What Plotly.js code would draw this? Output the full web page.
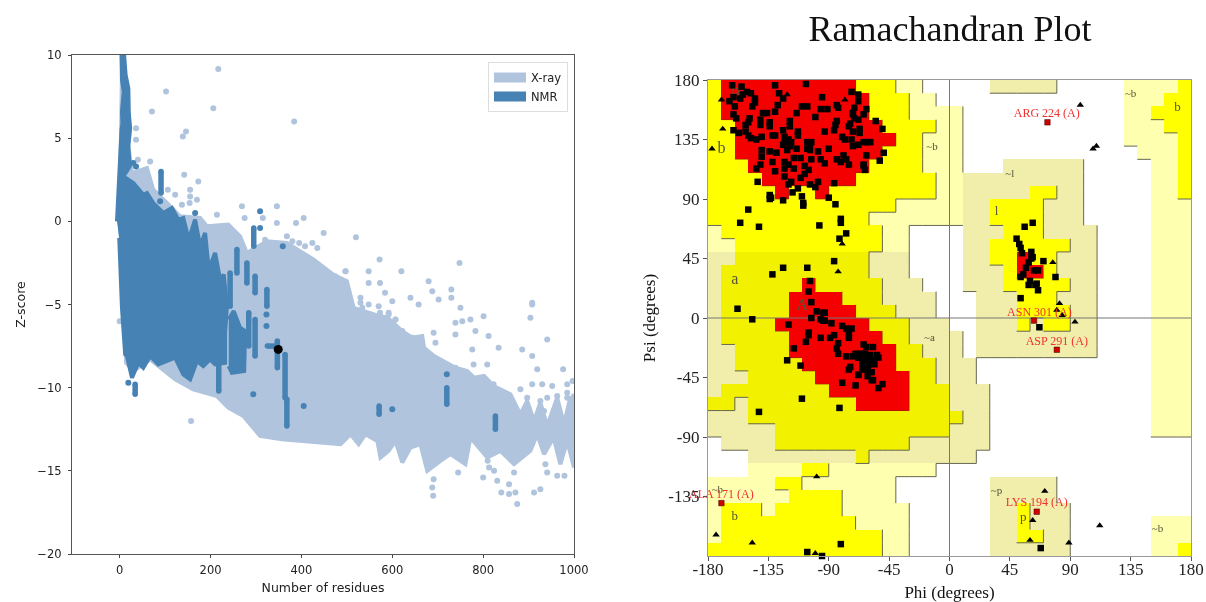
<!DOCTYPE html>
<html><head><meta charset="utf-8">
<script src="https://cdn.plot.ly/plotly-3.0.1.min.js"></script>
<style>html,body{margin:0;padding:0;background:#fff}#c{width:1206px;height:602px;filter:blur(0.55px)}</style>
</head><body><div id="c"></div>
<script>
// ---------- Left panel: Z-score vs residues ----------
const xrayUpperX=[0,5,12,27,60,74,104,133,177,192,239,265,280,324,368,427,470,500,515,560,590,622,644,666,670,692,739,765,780,802,823,860,882,897,912,926,941,956,963,978,990,1000];
const xrayUpperZ=[0,9,6,2.9,3.2,1.9,1.1,0.3,0.2,-0.3,-0.2,-0.9,-1.9,-1.2,-1.3,-2.3,-3.2,-3.6,-5.2,-5.6,-5.8,-6.6,-7,-6.9,-7.6,-8.1,-8.8,-9,-9.4,-9.3,-9.9,-10.4,-11.6,-10.8,-12,-10.9,-12.3,-11.2,-10.6,-12.2,-10.8,-10.4];
const xrayLowerX=[1000,985,970,955,934,919,904,868,838,809,772,761,728,706,677,662,640,622,607,592,574,567,541,526,508,486,397,357,309,272,239,214,162,122,67,30,14,12,0];
const xrayLowerZ=[-14.8,-13.2,-14.6,-13,-14,-12.8,-13.8,-14.6,-13.8,-14.2,-13,-14.6,-14,-14.4,-15,-13.4,-13.6,-14.5,-13.2,-13.8,-14.2,-13.2,-12.8,-13.4,-12.8,-13.4,-13.2,-13.1,-12.9,-11.7,-11.2,-10.5,-10.1,-9.5,-8.3,-9,-8.5,-5,0];
const xraySparseX=[217,102,71,206,384,36,146,139,36,67,40,142,173,155,155,122,106,137,154,170,214,269,346,275,315,346,388,405,449,320,368,380,395,408,424,435,497,464,474,478,450,497,520,572,497,548,620,748,680,548,573,584,688,730,730,702,600,640,658,908,750,530,501,548,908,904,941,886,908,919,976,801,772,754,739,739,783,812,834,776,691,695,662,644,618,607,592,809,779,739,761,790,823,882,908,930,952,985,997,985,926,941,963,985,996,897,934,956,970,992,996,937,941,963,979,912,926,875,857,871,857,840,831,824,813,800,868,745,691,688,690,810,157,0,493,515,534,530,570,573,592,607,508,537,567,589,622,644];
const xraySparseZ=[9.16,7.8,6.6,6.8,6,5.6,5.4,5.1,4.9,3.6,3.7,2.8,2.4,1.9,1.5,1.6,1.9,1,1.1,1.3,0.4,0.9,0.9,0.2,0.2,-0.1,-0.1,0.2,-0.7,-1.1,-0.9,-1.2,-1.3,-1.5,-1.3,-1.6,-3,-3.4,-3.3,-3.9,-3.9,-4,-0.95,-2.3,-3,-3,-3,-2.5,-3.6,-3.7,-3.7,-4.3,-4.2,-4.1,-4.6,-4.7,-4.8,-4.6,-5,-4.9,-5.2,-4.6,-4.6,-5,-5,-5.8,-7.1,-7.7,-8.1,-8.9,-8.9,-5.7,-5.9,-6,-6.1,-6.8,-6.6,-6.9,-7.6,-7.7,-6.7,-7.3,-7,-7,-6.6,-5.9,-5.5,-8.6,-8.6,-8.8,-9.1,-9.6,-9.8,-10.1,-9.8,-9.8,-9.9,-9.8,-9.6,-10.3,-10.8,-10.6,-10.5,-10.6,-10.8,-10.6,-11.4,-11.4,-11.8,-11.6,-11.2,-14.6,-15.1,-15.3,-15.3,-16.3,-16.1,-17,-15.8,-16.3,-16.4,-16.3,-15.6,-15,-14.8,-15.4,-15.1,-15.1,-15.5,-16,-16.5,-14.4,-12,-6,-5.5,-5.4,-5.2,-4.9,-5.1,-5.5,-5.6,-5.9,-6,-6,-6.2,-6.3,-6.6,-7];
const nmrBodyX=[-6,-3,1,3,4,6,5,9,5,4,10,13,19,20,23,19,22,8,30,52,60,74,96,115,129,140,152,166,177,188,196,210,221,229,236,232,232,210,199,184,170,155,140,122,85,67,52,41,27,16,12,5,-1];
const nmrBodyZ=[0,2,3.5,4.8,5.5,5.9,6.6,7.8,8.5,9.9,9.9,8.8,8,6.5,5.6,4.5,3.3,2.7,2.3,1.6,1.7,1.1,0.5,0.8,0.1,0.2,-1.1,0.1,-1.5,-0.7,-2.9,-1.9,-3.5,-3.2,-5.1,-6.7,-8.5,-8.6,-8.3,-8.7,-8.4,-9.5,-9.2,-8.2,-8.6,-8.1,-8.8,-8.5,-9.4,-8.1,-8,-5.2,-1];
const nmrBlobX=[240,251,265,276,274,247,240];
const nmrBlobZ=[-5.9,-5.4,-6.4,-6.6,-9,-9.1,-8.7];
const nmrStripX=[91,91,null,243,243,null,258,258,null,218,218,null,280,280,null,284,284,null,298,298,null,298,298,null,295,295,null,324,324,null,325,345,null,347,347,null,364,364,null,368,368,null,571,571,null,720,720,null,827,827,null,34,34];
const nmrStripZ=[3,1.7,null,-3.1,-5.1,null,-1.7,-3.1,null,-8.5,-10.2,null,-2.5,-3.7,null,-5.5,-7.5,null,-3.3,-4.3,null,-5.9,-8.1,null,-0.4,-1.5,null,-4.1,-5.1,null,-7.5,-7.5,null,-7.2,-8.8,null,-8,-10.6,null,-10.7,-12.3,null,-11.1,-11.6,null,-10,-11,null,-11.7,-12.5,null,-9.8,-10.4];
const nmrDotX=[89,30,36,166,309,309,359,294,323,323,405,600,720,19];
const nmrDotZ=[1.2,3.5,3.3,0.5,0.6,-0.4,-1.5,-10.4,-5.6,-6.3,-11.1,-11.3,-9.2,-9.7];
const blackX=[349];
const blackZ=[-7.7];

// ---------- Right panel: Ramachandran regions on a 10 degree grid ----------
// each row (psi 180 -> -180) : "startColumn+code", . none, p pale, k khaki, o olive, y yellow, r red
const regionRows=[
"0y 1r 11y 14p 16. 21k 26. 31p 35y","0y 1r 12y 15p 17. 31p 34y","0y 1r 12y 15p 19. 31p 33y","0y 2r 13y 17p 19. 31p 34y",
"0y 2r 14y 16p 19. 31p 35y","0y 2r 13y 16p 19. 32p 35y","0y 3r 12y 16p 19. 22k 28. 33p 35y","0y 4r 11y 17p 19k 28. 33p 35y",
"0y 5r 6y 8r 9y 17p 19k 24y 26k 28. 33p 35y","0y 14p 19k 21y 25k 28. 33p","0y 12p 19k 21y 25k 28. 33p","0p 1y 13p 15. 19k 22y 25k 29. 33p",
"0p 2y 13p 15. 19k 21y 27k 29. 33p","0k 2o 12k 15. 19k 21y 23r 24y 26k 29. 33p","0k 1o 12k 15. 19k 22y 23r 25y 26k 29. 33p","0k 1o 7r 8o 13k 16. 19k 22y 27k 29. 33p",
"0k 1o 6r 10o 13k 17. 20k 23y 26k 29. 33p","0k 1o 6r 11o 14k 17. 20k 23y 27k 29. 33p","0k 1o 5r 12o 15k 18. 20k 23y 24k 25y 27k 29. 33p","0k 1o 6r 13o 15k 19. 20k 29. 33p",
"0k 2o 6r 14o 16k 19. 20k 29. 33p","0k 2o 7r 14o 17k 20. 33p","0k 3o 8r 15o 17k 20. 33p","0k 1o 9r 15o 18k 21. 33p",
"0o 2k 3o 11r 15o 18k 21. 33p","0k 3o 19k 21. 33p","0k 5o 18k 21. 33p","0. 1k 5o 15k 21.",
"0. 3k 11o 12k 20.","0. 3p 7y 9p 17.","0p 5y 7p 14. 21k 26.","0p 6y 10p 14. 21k 26.",
"0p 1y 4p 5y 10p 15. 21k 23y 24k 27.","0p 1y 11p 15. 21k 23y 24k 27. 33p","0p 1y 13p 15. 21k 23y 25k 27. 33p","0y 13p 15. 21k 27. 33p 35y"];
const regionCodes={'.':0,p:1,k:2,o:3,y:4,r:5};
const regionColors=['#ffffff','#ffffb0','#f0eeaa','#f2f200','#ffff00','#f40000'];
const residuePhi=[-162,-155,-107,-130,-127,-151,-148,-154,-156,-161,-164,-145,-145,-147,-160,-161,-159,-149,-150,-152,-161,-157,-152,-150,-148,-144,-140,-141,-141,-139,-136,-130,-128,-124,-114,-110,-106,-100,-95,-96,-91,-84,-83,-73,-68,-68,-62,-71,-72,-71,-68,-64,-55,-50,-59,-49,-52,-62,-64,-63,-134,-134,-132,-130,-119,-119,-113,-113,-124,-123,-123,-120,-118,-124,-119,-114,-106,-104,-106,-103,-104,-98,-90,-134,-129,-140,-140,-132,-123,-120,-116,-123,-108,-105,-108,-144,-141,-130,-123,-118,-111,-120,-98,-103,-96,-93,-84,-81,-79,-77,-75,-64,-84,-85,-86,-93,-80,-78,-73,-72,-68,-64,-62,-67,-72,-75,-74,-72,-67,-121,-111,-116,
-134,-134,-133,-124,-117,-113,-110,-109,-109,-104,-100,-90,-85,-81,-81,-77,-82,-97,-142,-156,-150,-143,-86,-106,-124,-132,-86,
-147,-120,-105,-105,-96,-89,-86,-94,-93,-96,-88,-80,-77,-73,-75,-75,-107,-116,-121,-111,-83,-84,-83,-77,-64,-62,-57,-70,-66,-63,-59,-54,-53,-57,-60,-64,-68,-72,-74,-75,-68,-65,-61,-58,-63,-61,-58,-57,-68,-65,-60,-56,-53,-50,-80,-70,-82,-142,-110,-105,-104,-103,-99,-94,-93,-103,
-158,-106,-95,-81,
68,62,56,50,52,53,54,61,61,62,70,59,63,66,57,55,53,59,64,65,66,53,60,79,67];
const residuePsi=[176,175,177,176,170,171,170,169,166,167,164,166,163,160,160,154,151,151,148,146,142,140,141,138,136,135,137,150,146,155,155,156,161,166,155,160,160,152,167,158,158,161,159,171,169,164,158,159,155,151,150,154,149,143,133,125,119,123,116,112,148,145,138,138,149,145,141,138,142,137,133,135,133,131,130,128,133,131,128,133,127,126,128,126,125,127,122,118,118,116,113,113,115,112,109,113,116,111,107,103,106,101,103,120,120,117,120,118,123,120,116,115,149,146,142,141,137,135,135,130,131,133,133,140,141,145,147,154,143,127,121,121,
93,90,91,89,95,98,92,87,85,101,99,91,86,75,72,64,60,70,69,72,82,103,43,38,38,33,102,
-1,-5,-11,-13,-15,-15,-13,-2,-2,-1,-4,-6,-8,-8,-12,-15,-18,-23,-32,-36,-19,-23,-27,-29,-20,-22,-22,-27,-27,-27,-28,-28,-30,-32,-32,-32,-30,-29,-37,-39,-43,-38,-39,-41,-39,-44,-47,-47,-43,-35,-35,-35,-53,-50,-49,-51,-68,-71,-61,20,28,12,5,4,4,0,7,
-177,-180,-171,-174,
72,69,60,56,53,49,45,50,46,43,42,36,36,38,33,31,25,25,26,21,15,28,31,-7,6];
const glyPhi=[-170,-169,-177,-121,-78,-80,-83,97.5,107,109.5,77,82,80,84,93.5,71,62,60,89,112,-99,-174,-147,-100];
const glyPsi=[165,143,128,169,165,56,35,161,128,130,42,11,6,2,-3,-131,-153,-168,-170,-157,-120,-164,-170,-178];
const outlierNames=['ARG 224 (A)','ASN 301 (A)','ASP 291 (A)','LYS 194 (A)','ALA 171 (A)'];
const outlierPhi=[73,63,80,65,-170];
const outlierPsi=[148,-2,-24,-146.5,-140];
const outlierLabelPhi=[72.5,67,80,65,-170];
const outlierLabelPsi=[154,4,-18,-140,-134];
const regionLabels=['B','b','~b','a','A','~l','l','~b','b','~a','b','~b','~p','p','~b'];
const regionLabelPhi=[-159,-170,-13,-160,-110,45,35,135,170,-15,-160,-173,35,55,155];
const regionLabelPsi=[169,128,129,29,9,109,80,169,159,-15,-150,-130,-131,-151,-160];
const regionLabelSizes=[16,16,11,16,16,11,13,11,13,11,13,11,11,13,11];
const angleTicks=[-180,-135,-90,-45,0,45,90,135,180];
const angleTickText=['-180','-135','-90','-45','0','45','90','135','180'];
const psiTicks=[-135,-90,-45,0,45,90,135,180];
const psiTickText=['-135','-90','-45','0','45','90','135','180'];
const residueTicks=[0,200,400,600,800,1000];
const zTicks=[-20,-15,-10,-5,0,5,10];

// ---- build region grid and its lower/right edges ----
const grid=regionRows.map(s=>{const row=new Array(36).fill(0);
  const parts=s.split(' ').map(p=>[parseInt(p),regionCodes[p.slice(-1)]]);
  parts.forEach((p,i)=>{const end=i+1<parts.length?parts[i+1][0]:36;for(let c=p[0];c<end;c++)row[c]=p[1];});return row;});
const rank=v=>[0,1,1,2,2,3][v];
const colCenters=[...Array(36).keys()].map(c=>-175+10*c);
const rowCenters=[...Array(36).keys()].map(r=>175-10*r);
const ex=[],ey=[];
for(let r=0;r<36;r++)for(let c=0;c<36;c++){const v=rank(grid[r][c]);if(!v)continue;
  const L=-180+10*c,T=180-10*r;
  if(c<35&&rank(grid[r][c+1])<v&&v<3){ex.push(L+10,L+10,null);ey.push(T,T-10,null);}
  if(r<35&&rank(grid[r+1][c])<v&&v<3){ex.push(L,L+10,null);ey.push(T-10,T-10,null);}
}
const redx=[],redy=[];
for(let r=0;r<36;r++)for(let c=0;c<36;c++){if(grid[r][c]!==5)continue;const L=-180+10*c,T=180-10*r;
  if(c<35&&grid[r][c+1]!==5){redx.push(L+10,L+10,null);redy.push(T,T-10,null);}
  if(r<35&&grid[r+1][c]!==5){redx.push(L,L+10,null);redy.push(T-10,T-10,null);}
}
const scale=regionColors.flatMap((col,i)=>[[i/6,col],[(i+1)/6,col]]);
const XR='#b0c4de',NM='#4682b4';
const traces=[
 {type:'scatter',x:[null],y:[null],mode:'lines',line:{width:13,color:XR},name:'X-ray',hoverinfo:'skip'},
 {type:'scatter',x:[null],y:[null],mode:'lines',line:{width:13,color:NM},name:'NMR',hoverinfo:'skip'},
 {type:'scatter',x:xrayUpperX.concat(xrayLowerX),y:xrayUpperZ.concat(xrayLowerZ),fill:'toself',fillcolor:XR,mode:'lines',line:{width:4,color:XR},showlegend:false,hoverinfo:'skip'},
 {type:'scatter',x:xraySparseX,y:xraySparseZ,mode:'markers',marker:{color:XR,size:6},showlegend:false,hoverinfo:'skip'},
 {type:'scatter',x:nmrBodyX,y:nmrBodyZ,fill:'toself',fillcolor:NM,mode:'lines',line:{width:4,color:NM},showlegend:false,hoverinfo:'skip'},
 {type:'scatter',x:nmrBlobX,y:nmrBlobZ,fill:'toself',fillcolor:NM,mode:'lines',line:{width:4,color:NM},showlegend:false,hoverinfo:'skip'},
 {type:'scatter',x:nmrStripX,y:nmrStripZ,mode:'lines+markers',line:{width:5.5,color:NM},marker:{color:NM,size:5.5},showlegend:false,hoverinfo:'skip'},
 {type:'scatter',x:nmrDotX,y:nmrDotZ,mode:'markers',marker:{color:NM,size:6},showlegend:false,hoverinfo:'skip'},
 {type:'scatter',x:blackX,y:blackZ,mode:'markers',marker:{color:'#000',size:9},showlegend:false,hoverinfo:'skip'},
 {type:'heatmap',x:colCenters,y:rowCenters,z:grid,zmin:0,zmax:6,colorscale:scale,showscale:false,xaxis:'x2',yaxis:'y2',hoverinfo:'skip'},
 {type:'scatter',x:ex,y:ey,mode:'lines',line:{color:'#666650',width:1},xaxis:'x2',yaxis:'y2',showlegend:false,hoverinfo:'skip'},
 {type:'scatter',x:redx,y:redy,mode:'lines',line:{color:'#8a2a10',width:0.6},xaxis:'x2',yaxis:'y2',showlegend:false,hoverinfo:'skip'},
 {type:'scatter',x:[-180,180,null,0,0],y:[0,0,null,-180,180],mode:'lines',line:{color:'#777',width:1},xaxis:'x2',yaxis:'y2',showlegend:false,hoverinfo:'skip'},
 {type:'scatter',x:regionLabelPhi,y:regionLabelPsi,text:regionLabels,mode:'text',textfont:{family:'Liberation Serif',size:regionLabelSizes,color:'#55553a'},xaxis:'x2',yaxis:'y2',showlegend:false,hoverinfo:'skip'},
 {type:'scatter',x:residuePhi,y:residuePsi,mode:'markers',marker:{symbol:'square',color:'#000',size:6.5},xaxis:'x2',yaxis:'y2',cliponaxis:false,showlegend:false,hoverinfo:'skip'},
 {type:'scatter',x:glyPhi,y:glyPsi,mode:'markers',marker:{symbol:'triangle-up',color:'#000',size:6.5},xaxis:'x2',yaxis:'y2',cliponaxis:false,showlegend:false,hoverinfo:'skip'},
 {type:'scatter',x:outlierPhi,y:outlierPsi,mode:'markers',marker:{symbol:'square',color:'#d00000',size:5.5,line:{color:'#300',width:0.5}},xaxis:'x2',yaxis:'y2',showlegend:false,hoverinfo:'skip'},
 {type:'scatter',x:outlierLabelPhi,y:outlierLabelPsi,text:outlierNames,mode:'text',cliponaxis:false,textfont:{family:'Liberation Serif',size:12,color:'#f23030'},xaxis:'x2',yaxis:'y2',showlegend:false,hoverinfo:'skip'}
];
const W=1206,H=602;
const sans='"DejaVu Sans"',serif='"Liberation Serif"';
const layout={width:W,height:H,margin:{l:0,r:0,t:0,b:0},paper_bgcolor:'#fff',plot_bgcolor:'#fff',showlegend:true,
 title:{text:'Ramachandran Plot',font:{family:serif,size:36,color:'#111'},x:950/W,xanchor:'center',y:1-28/H,yanchor:'middle'},
 legend:{x:568/W,xanchor:'right',y:1-62/H,yanchor:'top',bgcolor:'#fff',bordercolor:'#ddd',borderwidth:1,font:{family:sans,size:11.5,color:'#222'},itemwidth:32,traceorder:'normal',tracegroupgap:0},
 xaxis:{domain:[72/W,574/W],range:[-105,1000],tickvals:residueTicks,ticks:'outside',ticklen:3,tickcolor:'#444',showgrid:false,zeroline:false,showline:true,mirror:true,linecolor:'#555',linewidth:1.2,ticklabelstandoff:2,
   tickfont:{family:sans,size:11.5,color:'#222'},title:{text:'Number of residues',font:{family:sans,size:12.5,color:'#222'},standoff:7},anchor:'y'},
 yaxis:{domain:[1-554/H,1-55/H],range:[-20,10],tickvals:zTicks,ticks:'outside',ticklen:3,tickcolor:'#444',showgrid:false,zeroline:false,showline:true,mirror:true,linecolor:'#555',linewidth:1.2,ticklabelstandoff:4,
   tickfont:{family:sans,size:11.5,color:'#222'},title:{text:'Z-score',font:{family:sans,size:12.5,color:'#222'},standoff:8},anchor:'x'},
 xaxis2:{domain:[708/W,1191/W],range:[-180,180],tickvals:angleTicks,ticktext:angleTickText,ticks:'outside',ticklen:4,tickcolor:'#555',showgrid:false,zeroline:false,showline:true,mirror:true,linecolor:'#999',linewidth:1.2,ticklabelstandoff:-7,
   tickfont:{family:serif,size:17,color:'#222'},title:{text:'Phi (degrees)',font:{family:serif,size:17,color:'#111'},standoff:12},anchor:'y2'},
 yaxis2:{domain:[1-556/H,1-80/H],range:[-180,180],tickvals:psiTicks,ticktext:psiTickText,ticks:'outside',ticklen:4,tickcolor:'#555',showgrid:false,zeroline:false,showline:true,mirror:true,linecolor:'#999',linewidth:1.2,
   tickfont:{family:serif,size:17,color:'#222'},title:{text:'Psi (degrees)',font:{family:serif,size:17,color:'#111'},standoff:8},anchor:'x2'}
};
Plotly.newPlot('c',traces,layout,{displayModeBar:false,responsive:false});
</script></body></html>
